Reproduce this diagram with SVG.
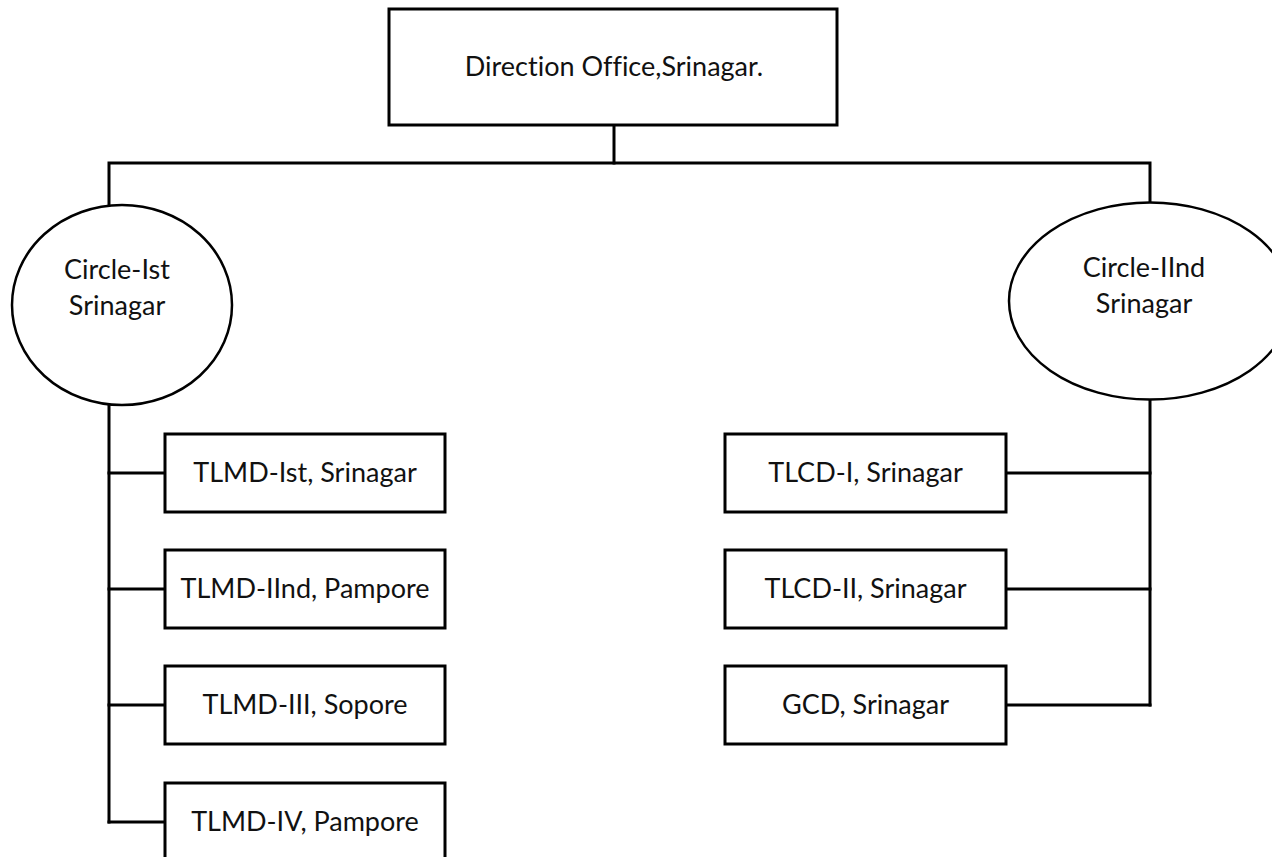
<svg xmlns="http://www.w3.org/2000/svg" width="1272" height="857" viewBox="0 0 1272 857">
  <style>
    .box { fill: #ffffff; stroke: #000000; stroke-width: 3; }
    .oval { fill: #ffffff; stroke: #000000; stroke-width: 2.5; }
    .link { fill: none; stroke: #000000; stroke-width: 3; stroke-linecap: square; }
    .label { font-family: Lato, "Open Sans", "Liberation Sans", sans-serif; font-size: 27px; fill: #111111; text-anchor: middle; font-variant-ligatures: none; font-feature-settings: "liga" 0; }
  </style>
  <rect x="0" y="0" width="1272" height="857" fill="#ffffff"/>

  <!-- connectors -->
  <g id="connectors">
    <polyline class="link" points="614,125 614,163"/>
    <polyline class="link" points="109,205 109,163 1150,163 1150,203"/>
    <polyline class="link" points="109,405 109,822"/>
    <line class="link" x1="109" y1="473" x2="165" y2="473"/>
    <line class="link" x1="109" y1="589" x2="165" y2="589"/>
    <line class="link" x1="109" y1="705" x2="165" y2="705"/>
    <line class="link" x1="109" y1="822" x2="165" y2="822"/>
    <polyline class="link" points="1150,400 1150,705"/>
    <line class="link" x1="1006" y1="473" x2="1150" y2="473"/>
    <line class="link" x1="1006" y1="589" x2="1150" y2="589"/>
    <line class="link" x1="1006" y1="705" x2="1150" y2="705"/>
  </g>

  <g id="direction-office">
    <rect class="box" x="389" y="9" width="448" height="116"/>
    <text class="label" x="614" y="76">Direction Office,Srinagar.</text>
  </g>

  <g id="circle-1">
    <ellipse class="oval" cx="122" cy="305" rx="110" ry="100"/>
    <text class="label" x="117" y="279">Circle-Ist</text>
    <text class="label" x="117" y="315">Srinagar</text>
  </g>

  <g id="circle-2">
    <ellipse class="oval" cx="1150" cy="301" rx="141" ry="98.5"/>
    <text class="label" x="1144" y="277">Circle-IInd</text>
    <text class="label" x="1144" y="313">Srinagar</text>
  </g>

  <g id="tlmd-1">
    <rect class="box" x="165" y="434" width="280" height="78"/>
    <text class="label" x="305" y="482">TLMD-Ist, Srinagar</text>
  </g>
  <g id="tlmd-2">
    <rect class="box" x="165" y="550" width="280" height="78"/>
    <text class="label" x="305" y="598">TLMD-IInd, Pampore</text>
  </g>
  <g id="tlmd-3">
    <rect class="box" x="165" y="666" width="280" height="78"/>
    <text class="label" x="305" y="714">TLMD-III, Sopore</text>
  </g>
  <g id="tlmd-4">
    <rect class="box" x="165" y="783" width="280" height="78"/>
    <text class="label" x="305" y="831">TLMD-IV, Pampore</text>
  </g>

  <g id="tlcd-1">
    <rect class="box" x="725" y="434" width="281" height="78"/>
    <text class="label" x="865.5" y="482">TLCD-I, Srinagar</text>
  </g>
  <g id="tlcd-2">
    <rect class="box" x="725" y="550" width="281" height="78"/>
    <text class="label" x="865.5" y="598">TLCD-II, Srinagar</text>
  </g>
  <g id="gcd">
    <rect class="box" x="725" y="666" width="281" height="78"/>
    <text class="label" x="865.5" y="714">GCD, Srinagar</text>
  </g>
</svg>
